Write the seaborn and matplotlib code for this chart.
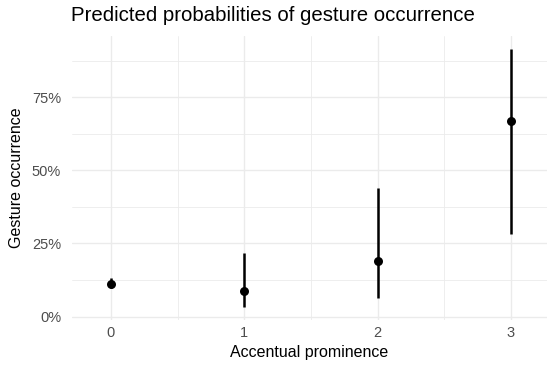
import numpy as np
import pandas as pd
import seaborn as sns
import matplotlib.pyplot as plt
from matplotlib.ticker import PercentFormatter, MultipleLocator

prominence = [0, 1, 2, 3]
predicted = [0.111, 0.089, 0.189, 0.670]
ci_low = [0.097, 0.032, 0.064, 0.284]
ci_high = [0.131, 0.216, 0.439, 0.915]

df = pd.DataFrame({"prominence": prominence, "predicted": predicted,
                   "low": ci_low, "high": ci_high})

sns.set_theme(style="whitegrid")
plt.rcParams['font.family'] = ['Liberation Sans', 'DejaVu Sans']

fig = plt.figure(figsize=(5.47, 3.65), dpi=100)
ax = fig.add_axes([0.132, 0.123, 0.868, 0.778])

# confidence intervals
ax.vlines(df["prominence"], df["low"], df["high"], color="black", linewidth=1.8, zorder=3)
sns.scatterplot(data=df, x="prominence", y="predicted", color="black", s=42,
                edgecolor="black", linewidth=0, ax=ax, zorder=4)

ax.set_xlim(-0.29, 3.27)
ax.set_ylim(-0.012, 0.959)
ax.set_xticks(prominence)
ax.set_xticklabels([str(p) for p in prominence])
ax.xaxis.set_minor_locator(MultipleLocator(0.5))
ax.yaxis.set_major_locator(MultipleLocator(0.25))
ax.yaxis.set_minor_locator(MultipleLocator(0.125))
ax.yaxis.set_major_formatter(PercentFormatter(1.0, decimals=0))

ax.grid(which="major", color="#EBEBEB", linewidth=1.0)
ax.grid(which="minor", color="#EBEBEB", linewidth=0.6)
for s in ax.spines.values():
    s.set_visible(False)
ax.tick_params(which="both", length=0)
ax.tick_params(axis="y", labelsize=10.5, labelcolor="#4D4D4D", pad=8)
ax.tick_params(axis="x", labelsize=10.5, labelcolor="#4D4D4D", pad=4)

ax.set_xlabel("Accentual prominence", fontsize=11.5, color="black", labelpad=4)
ax.set_ylabel("Gesture occurrence", fontsize=11.5, color="black", labelpad=6)
ax.set_title("Predicted probabilities of gesture occurrence", fontsize=14.7,
             loc="left", x=-0.003, pad=11, color="black")

fig.savefig("out.png", dpi=100)
